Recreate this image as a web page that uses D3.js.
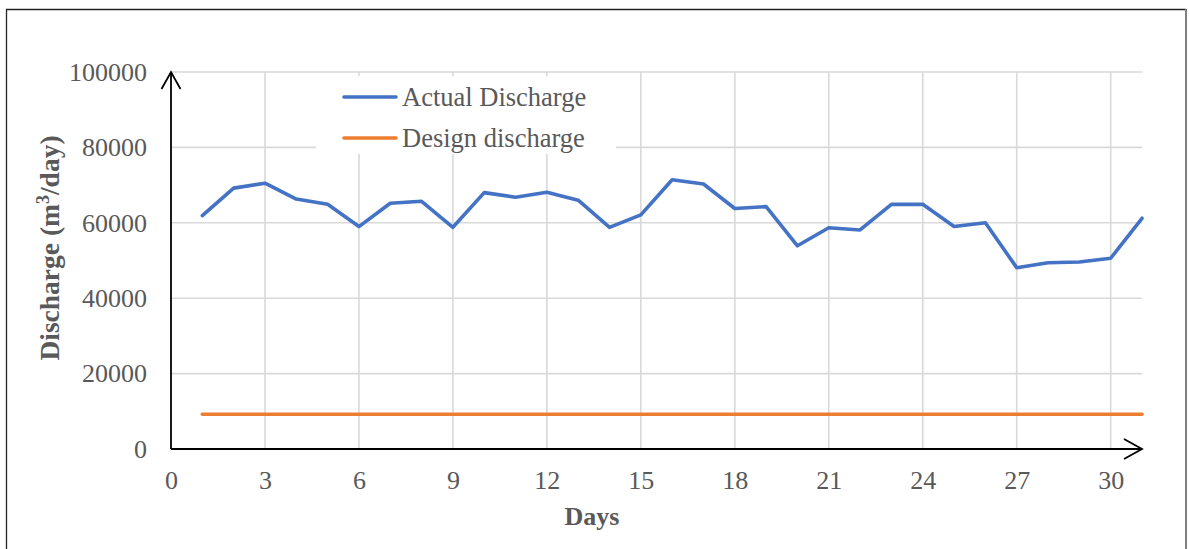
<!DOCTYPE html>
<html>
<head>
<meta charset="utf-8">
<script src="https://cdn.jsdelivr.net/npm/d3@7"></script>
<style>
  html, body { margin: 0; padding: 0; background: #fff; }
  svg { display: block; font-family: "Liberation Serif", "Times New Roman", serif; }
</style>
</head>
<body>
<svg id="chart" width="1189" height="549"></svg>
<script>
// Daily discharge, days 1..31 (m3/day)
const days = d3.range(1, 32);
const actualDischarge = [
  61900, 69200, 70500, 66300, 64900, 59000, 65200, 65700, 58800, 68000,
  66800, 68100, 66000, 58800, 62100, 71400, 70300, 63800, 64300, 53900,
  58700, 58100, 64900, 64900, 59000, 60000, 48100, 49400, 49600, 50600,
  61200
];
const designDischarge = days.map(() => 9200);
const seriesNames = ["Actual Discharge", "Design discharge"];
const xTicks = [0, 3, 6, 9, 12, 15, 18, 21, 24, 27, 30];
const yTicks = [0, 20000, 40000, 60000, 80000, 100000];

const svg = d3.select("#chart");
const W = 1189, H = 549;
const plot = { left: 171, right: 1142, top: 72, bottom: 449 };
const grey = "#595959";
const colors = ["#4472C4", "#ED7D31"];

const x = d3.scaleLinear().domain([0, 31]).range([plot.left, plot.right]);
const y = d3.scaleLinear().domain([0, 100000]).range([plot.bottom, plot.top]);

// outer frame
svg.append("line").attr("x1", 6.5).attr("y1", 9.5).attr("x2", 6.5).attr("y2", H)
  .attr("stroke", "#222").attr("stroke-width", 1.3);
svg.append("line").attr("x1", 6).attr("y1", 9.5).attr("x2", 1186).attr("y2", 9.5)
  .attr("stroke", "#222").attr("stroke-width", 1.3);
svg.append("line").attr("x1", 1186).attr("y1", 9).attr("x2", 1186).attr("y2", H)
  .attr("stroke", "#7f7f7f").attr("stroke-width", 2);

// gridlines
const grid = svg.append("g").attr("stroke", "#d9d9d9").attr("stroke-width", 1.6);
grid.selectAll("line.h").data(yTicks.filter(v => v > 0)).join("line")
  .attr("x1", plot.left).attr("x2", plot.right)
  .attr("y1", d => y(d)).attr("y2", d => y(d));
grid.selectAll("line.v").data(xTicks.filter(v => v > 0)).join("line")
  .attr("x1", d => x(d)).attr("x2", d => x(d))
  .attr("y1", plot.top).attr("y2", plot.bottom);

// tick labels via d3 axes (domain/ticks hidden)
const yAxis = d3.axisLeft(y).tickValues(yTicks).tickSize(0).tickPadding(24).tickFormat(d3.format("d"));
const yg = svg.append("g").attr("transform", `translate(${plot.left},0)`).call(yAxis);
const xAxis = d3.axisBottom(x).tickValues(xTicks).tickSize(0).tickPadding(22).tickFormat(d3.format("d"));
const xg = svg.append("g").attr("transform", `translate(0,${plot.bottom})`).call(xAxis);
[yg, xg].forEach(g => {
  g.select(".domain").remove();
  g.selectAll("text").attr("fill", grey).attr("font-size", 26)
    .attr("font-family", "'Liberation Serif', 'Times New Roman', serif");
});

// series lines
const line = d3.line().x((d, i) => x(days[i])).y(d => y(d));
svg.append("path").datum(designDischarge).attr("d", line)
  .attr("fill", "none").attr("stroke", colors[1]).attr("stroke-width", 3.6)
  .attr("stroke-linecap", "round").attr("stroke-linejoin", "round");
svg.append("path").datum(actualDischarge).attr("d", line)
  .attr("fill", "none").attr("stroke", colors[0]).attr("stroke-width", 3.6)
  .attr("stroke-linecap", "round").attr("stroke-linejoin", "round");

// axes with open arrowheads
const ax = svg.append("g").attr("stroke", "#000").attr("stroke-width", 1.8).attr("fill", "none");
ax.append("line").attr("x1", plot.left).attr("y1", plot.bottom).attr("x2", plot.left).attr("y2", plot.top);
ax.append("path").attr("d", `M${plot.left - 9.5},${plot.top + 17} L${plot.left},${plot.top} L${plot.left + 9.5},${plot.top + 17}`);
ax.append("line").attr("x1", plot.left).attr("y1", plot.bottom).attr("x2", plot.right).attr("y2", plot.bottom);
ax.append("path").attr("d", `M${plot.right - 18},${plot.bottom - 10} L${plot.right},${plot.bottom} L${plot.right - 18},${plot.bottom + 10}`);

// legend
const lg = svg.append("g");
lg.append("rect").attr("x", 316).attr("y", 76).attr("width", 300).attr("height", 78).attr("fill", "#fff");
seriesNames.forEach((name, i) => {
  const yy = 97 + i * 41;
  lg.append("line").attr("x1", 344).attr("x2", 396).attr("y1", yy).attr("y2", yy)
    .attr("stroke", colors[i]).attr("stroke-width", 3.6).attr("stroke-linecap", "round");
  lg.append("text").attr("x", 402).attr("y", yy + 9).attr("fill", grey)
    .attr("font-size", 26.5).text(name);
});

// axis titles
svg.append("text").attr("x", 592).attr("y", 525).attr("text-anchor", "middle")
  .attr("fill", grey).attr("font-size", 26).attr("font-weight", "bold").text("Days");
const yt = svg.append("text").attr("transform", "translate(59,248) rotate(-90)")
  .attr("text-anchor", "middle").attr("fill", grey).attr("font-size", 27.5).attr("font-weight", "bold");
yt.append("tspan").text("Discharge (m");
yt.append("tspan").attr("font-size", 18).attr("dy", -10).text("3");
yt.append("tspan").attr("dy", 10).text("/day)");
</script>
</body>
</html>
